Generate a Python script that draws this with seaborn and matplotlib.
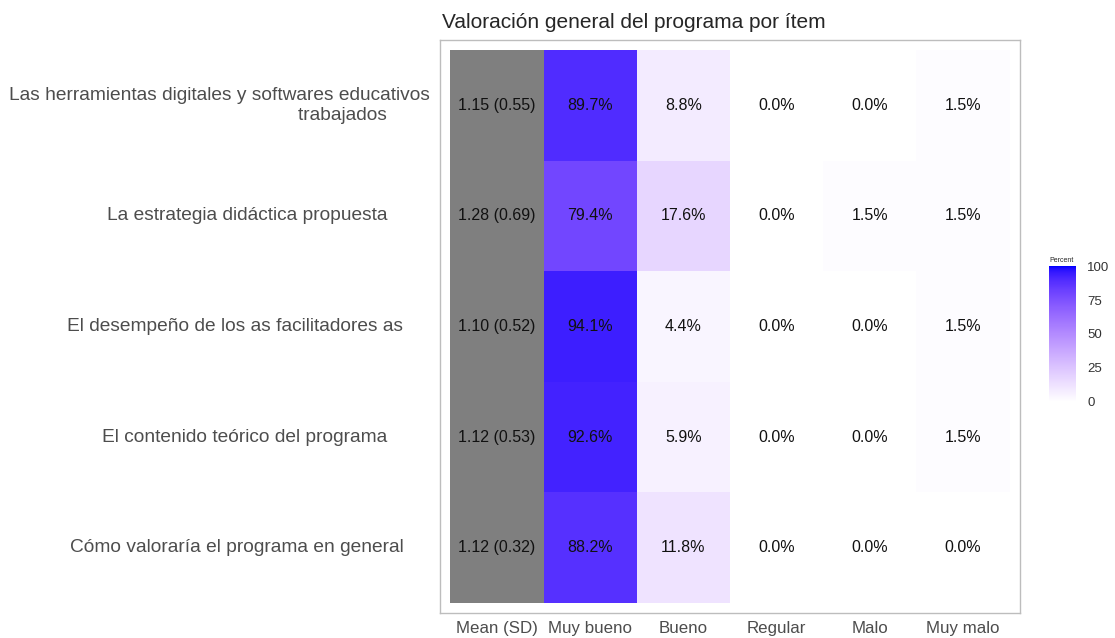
import numpy as np
import pandas as pd
import matplotlib
matplotlib.use("Agg")
import matplotlib.pyplot as plt
import seaborn as sns
from matplotlib.colors import ListedColormap

# -----------------------------
# Data
# -----------------------------
items = [
    "Las herramientas digitales y softwares educativos\ntrabajados        ",
    "La estrategia didáctica propuesta        ",
    "El desempeño de los as facilitadores as     ",
    "El contenido teórico del programa        ",
    "Cómo valoraría el programa en general     ",
]
columns = ["Mean (SD)", "Muy bueno", "Bueno", "Regular", "Malo", "Muy malo"]
means = [1.15, 1.28, 1.10, 1.12, 1.12]
sds = [0.55, 0.69, 0.52, 0.53, 0.32]
muy_bueno = [89.7, 79.4, 94.1, 92.6, 88.2]
bueno = [8.8, 17.6, 4.4, 5.9, 11.8]
regular = [0.0, 0.0, 0.0, 0.0, 0.0]
malo = [0.0, 1.5, 0.0, 0.0, 0.0]
muy_malo = [1.5, 1.5, 1.5, 1.5, 0.0]

# -----------------------------
# Build table
# -----------------------------
pct = pd.DataFrame({
    "Muy bueno": muy_bueno, "Bueno": bueno, "Regular": regular,
    "Malo": malo, "Muy malo": muy_malo,
}, index=items)
table = pd.concat([pd.Series(means, index=items, name="Mean (SD)"), pct], axis=1)

labels = table.copy().astype(object)
labels["Mean (SD)"] = [f"{m:.2f} ({s:.2f})" for m, s in zip(means, sds)]
for c in pct.columns:
    labels[c] = [f"{v:.1f}%" for v in pct[c]]

mask_mean = np.ones(table.shape, dtype=bool)
mask_mean[:, 0] = False
mask_pct = ~mask_mean


# white -> blue gradient interpolated in Lab space (like ggplot)
def srgb_to_lab(rgb):
    rgb = np.asarray(rgb, float)
    lin = np.where(rgb <= 0.04045, rgb / 12.92, ((rgb + 0.055) / 1.055) ** 2.4)
    M = np.array([[0.4124, 0.3576, 0.1805],
                  [0.2126, 0.7152, 0.0722],
                  [0.0193, 0.1192, 0.9505]])
    xyz = M @ lin / np.array([0.95047, 1.0, 1.08883])
    f = np.where(xyz > 0.008856, np.cbrt(xyz), 7.787 * xyz + 16 / 116)
    return np.array([116 * f[1] - 16, 500 * (f[0] - f[1]), 200 * (f[1] - f[2])])


def lab_to_srgb(lab):
    L, a, b = lab
    fy = (L + 16) / 116
    fx = fy + a / 500
    fz = fy - b / 200
    f = np.array([fx, fy, fz])
    xyz = np.where(f ** 3 > 0.008856, f ** 3, (f - 16 / 116) / 7.787)
    xyz = xyz * np.array([0.95047, 1.0, 1.08883])
    Minv = np.array([[3.2406, -1.5372, -0.4986],
                     [-0.9689, 1.8758, 0.0415],
                     [0.0557, -0.2040, 1.0570]])
    lin = Minv @ xyz
    rgb = np.where(lin <= 0.0031308, 12.92 * lin, 1.055 * np.clip(lin, 0, None) ** (1 / 2.4) - 0.055)
    return np.clip(rgb, 0, 1)


lab_lo = srgb_to_lab([1, 1, 1])
lab_hi = srgb_to_lab([0, 0, 1])
blue_cmap = ListedColormap([lab_to_srgb(lab_lo + t * (lab_hi - lab_lo)) for t in np.linspace(0, 1, 256)])

# -----------------------------
# Plot
# -----------------------------
sns.set_style("white")
plt.rcParams["font.family"] = ["Liberation Sans", "DejaVu Sans"]

fig = plt.figure(figsize=(11.15, 6.38), dpi=100)
ax = fig.add_axes([440 / 1115, 25 / 638, 580 / 1115, 573 / 638])
cax = fig.add_axes([1049 / 1115, 236 / 638, 27 / 1115, 136 / 638])

annot_kws = {"color": "#111111", "fontsize": 11.5}
sns.heatmap(table, mask=mask_mean, cmap=ListedColormap(["#7f7f7f"]), annot=labels, fmt="",
            annot_kws=annot_kws, cbar=False, linewidths=0, ax=ax)
sns.heatmap(table, mask=mask_pct, cmap=blue_cmap, vmin=0, vmax=100, annot=labels, fmt="",
            annot_kws=annot_kws, cbar=True, cbar_ax=cax, linewidths=0, ax=ax)

ax.set_xlim(-0.11, 6.11)
ax.set_ylim(5.09, -0.09)
ax.set_xlabel("")
ax.set_ylabel("")
ax.set_xticks(np.arange(6) + 0.5)
ax.set_xticklabels(columns, rotation=0, fontsize=12.2, color="#4d4d4d")
ax.set_yticks(np.arange(5) + 0.5)
ax.set_yticklabels(items, rotation=0, fontsize=13.8, color="#4d4d4d", ha="right", linespacing=1.2)
ax.tick_params(axis="both", length=0)
ax.tick_params(axis="y", pad=7)
ax.tick_params(axis="x", pad=6)
for s in ax.spines.values():
    s.set_visible(True)
    s.set_color("#bdbdbd")
    s.set_linewidth(1.0)
ax.set_title("Valoración general del programa por ítem", loc="left", fontsize=15, pad=9, x=0.003)

# colour bar
cbar = ax.collections[-1].colorbar
cbar.outline.set_visible(False)
cbar.set_ticks([0, 25, 50, 75, 100])
cax.tick_params(axis="y", which="both", left=True, right=True, direction="in", length=5,
                color="white", width=0.6, labelsize=9.5, labelcolor="#333333", pad=8)
cax.set_title("Percent", fontsize=5, loc="left", pad=3)

fig.savefig("out.png", dpi=100)
